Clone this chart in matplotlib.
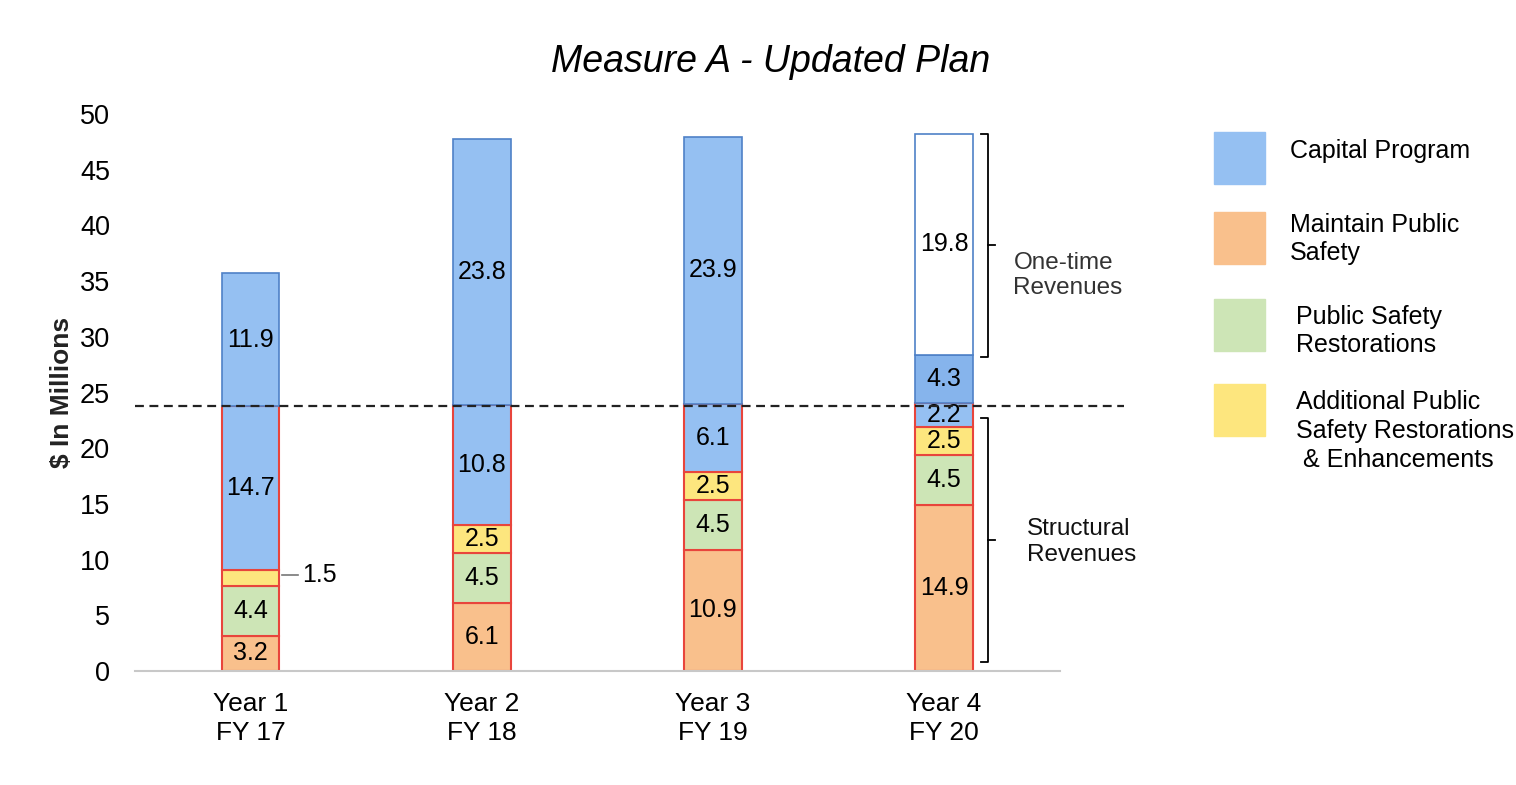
import matplotlib
matplotlib.use("Agg")
import matplotlib.pyplot as plt
from matplotlib.patches import Rectangle
import numpy as np

plt.rcParams['font.family'] = ['Liberation Sans', 'DejaVu Sans']

# data
years = ["Year 1\nFY 17", "Year 2\nFY 18", "Year 3\nFY 19", "Year 4\nFY 20"]
maintain = [3.2, 6.1, 10.9, 14.9]
restorations = [4.4, 4.5, 4.5, 4.5]
additional = [1.5, 2.5, 2.5, 2.5]
capital_structural = [14.7, 10.8, 6.1, 2.2]
capital_onetime = [11.9, 23.8, 23.9, 4.3]
onetime_extra = [0, 0, 0, 19.8]
structural_level = 23.8

legend_labels = ["Capital Program", "Maintain Public\nSafety",
                 "Public Safety\nRestorations",
                 "Additional Public\nSafety Restorations\n & Enhancements"]

c_blue = "#95c0f2"
c_blue_dark = "#86b4ec"
c_orange = "#f9c08c"
c_green = "#cde5b6"
c_yellow = "#fde67e"
red = "#e8453c"
edge_blue = "#4f81c7"

fig = plt.figure(figsize=(15.16, 7.85), dpi=100)
ax = fig.add_axes([0.089, 0.145, 0.61, 0.71])

x = np.arange(len(years))
w = 0.25

bottom = np.zeros(len(years))
layers = [
    (maintain, c_orange, red),
    (restorations, c_green, red),
    (additional, c_yellow, red),
    (capital_structural, c_blue, red),
]
for vals, col, ec in layers:
    ax.bar(x, vals, w, bottom=bottom, color=col, edgecolor=ec, linewidth=1.5, zorder=2)
    bottom += np.array(vals)

# one-time capital
for i in range(len(years)):
    col = c_blue_dark if onetime_extra[i] > 0 else c_blue
    ax.bar(x[i], capital_onetime[i], w, bottom=bottom[i], color=col,
           edgecolor=edge_blue, linewidth=1.2, zorder=2)
ot_bottom = bottom + np.array(capital_onetime)
ax.bar(x, onetime_extra, w, bottom=ot_bottom, color="white",
       edgecolor=[edge_blue if v > 0 else "none" for v in onetime_extra],
       linewidth=1.2, zorder=2)

# value labels
fs = 18
for i in range(len(years)):
    b = 0
    segs = [maintain[i], restorations[i], additional[i], capital_structural[i],
            capital_onetime[i], onetime_extra[i]]
    for k, v in enumerate(segs):
        if v > 0:
            if i == 0 and k == 2:
                ax.plot([x[i] + w / 2 + 0.01, x[i] + w / 2 + 0.08], [b + v / 2 + 0.3] * 2,
                        color="#777777", lw=1.2)
                ax.text(x[i] + w / 2 + 0.1, b + v / 2 + 0.3, f"{v}", ha="left",
                        va="center", fontsize=fs)
            else:
                ax.text(x[i], b + v / 2, f"{v}", ha="center", va="center", fontsize=fs,
                        zorder=3)
        b += v

# dashed structural line
ax.plot([-0.5, 3.78], [structural_level, structural_level], ls=(0, (4, 2.5)),
        color="#222222", lw=1.6, clip_on=False, zorder=4)

# brackets
def bracket(y0, y1, xb):
    ym = (y0 + y1) / 2
    ax.plot([xb, xb + 0.03, xb + 0.03, xb], [y1, y1, y0, y0], color="black",
            lw=1.3, clip_on=False)
    ax.plot([xb + 0.03, xb + 0.06], [ym, ym], color="black", lw=1.3, clip_on=False)

top4 = ot_bottom[3] + onetime_extra[3]
bracket(28.2, top4, x[3] + 0.16)
bracket(0.8, 22.7, x[3] + 0.16)
ax.text(x[3] + 0.3, 35.5, "One-time\nRevenues", ha="left", va="center",
        fontsize=17.5, color="#333333", linespacing=1.2)
ax.text(x[3] + 0.36, 11.6, "Structural\nRevenues", ha="left", va="center",
        fontsize=17.5, color="#111111", linespacing=1.2)

ax.set_xlim(-0.5, 3.5)
ax.set_ylim(0, 50)
ax.set_yticks(np.arange(0, 51, 5))
ax.set_xticks(x)
ax.set_xticklabels(years, fontsize=19, linespacing=1.25)
ax.tick_params(axis="y", labelsize=19.5, length=0, pad=18)
ax.tick_params(axis="x", length=0, pad=15)
for s in ["top", "right", "left"]:
    ax.spines[s].set_visible(False)
ax.spines["bottom"].set_color("#c8c8c8")
ax.spines["bottom"].set_linewidth(1.5)
ax.set_ylabel("$ In Millions", fontsize=19, fontweight="bold", color="#222222", labelpad=4)

fig.text(0.508, 0.921, "Measure A - Updated Plan", ha="center", va="center",
         fontsize=27, style="italic")

# legend
leg_colors = [c_blue, c_orange, c_green, c_yellow]
leg_y = [158, 238, 325, 410]
leg_tx = [1290, 1290, 1296, 1296]
leg_ty = [151, 239, 331, 431]
for col, yy, lab, tx, ty in zip(leg_colors, leg_y, legend_labels, leg_tx, leg_ty):
    fig.add_artist(Rectangle((1214 / 1516, 1 - (yy + 26) / 785), 51 / 1516, 52 / 785,
                             transform=fig.transFigure, color=col))
    fig.text(tx / 1516, 1 - ty / 785, lab, ha="left", va="center", fontsize=18,
             linespacing=1.25)

fig.savefig("out.png", dpi=100)
